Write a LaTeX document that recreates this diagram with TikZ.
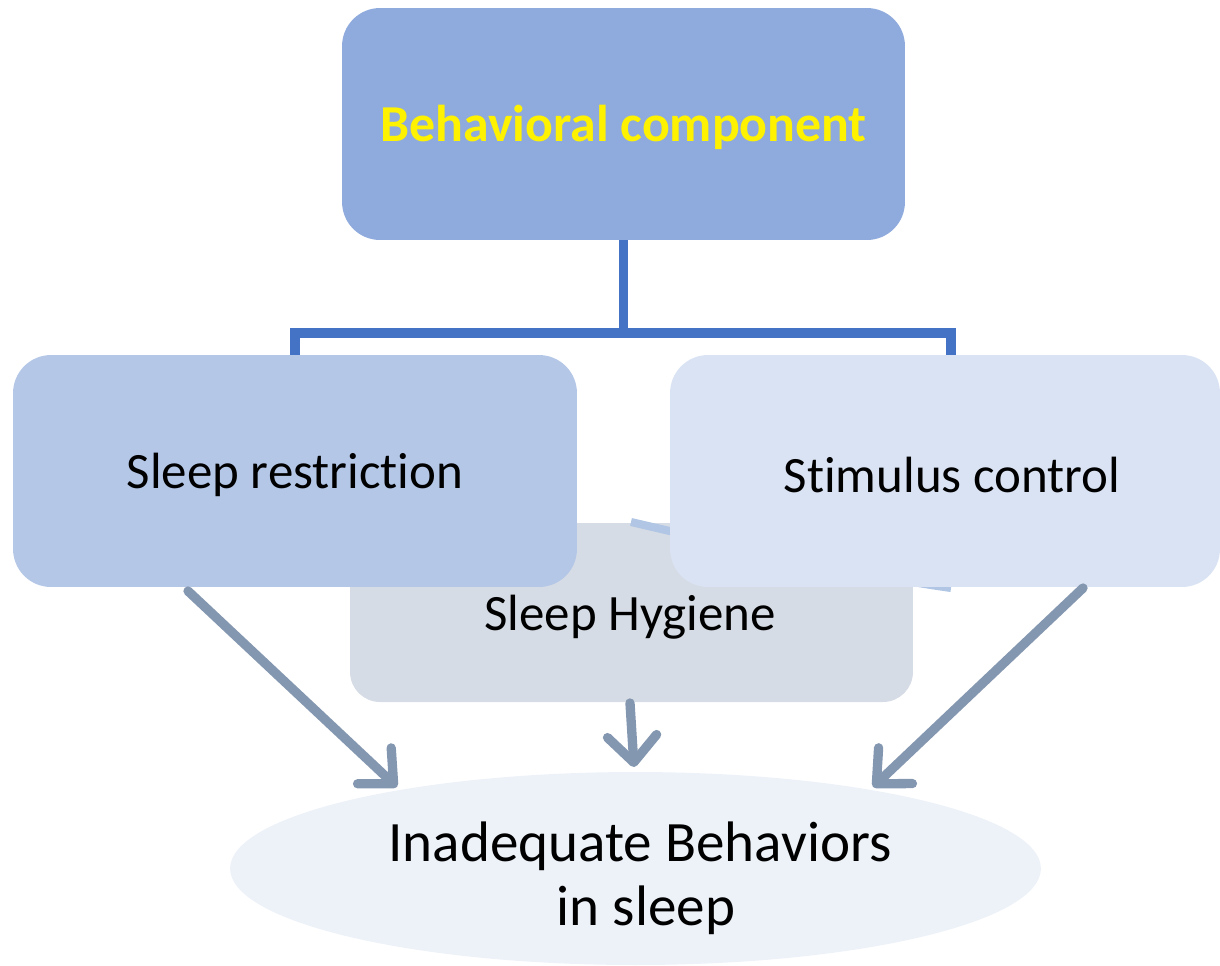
\documentclass[tikz,border=0pt]{standalone}
\usepackage{fontspec}
\setmainfont{Carlito}[Ligatures=NoCommon]
\usetikzlibrary{arrows.meta,shapes.geometric,calc}
\definecolor{topfill}{HTML}{8FAADC}
\definecolor{leftfill}{HTML}{B4C7E7}
\definecolor{rightfill}{HTML}{DAE3F3}
\definecolor{hygfill}{HTML}{D6DCE5}
\definecolor{ellfill}{HTML}{EDF2F9}
\definecolor{busblue}{HTML}{4472C4}
\definecolor{arrgray}{HTML}{8497B0}
\definecolor{faint}{HTML}{B0C6E4}
\tikzset{
  box/.style={rectangle, rounded corners=0.76cm, draw=none, align=center, inner sep=0pt},
  conn/.style={draw=busblue, line width=5.2pt},
  arr/.style={draw=arrgray, line width=5.3pt, line cap=round,
    -{Straight Barb[round, length=15pt, width=28pt]}},
  lbl/.style={font=\fontsize{29}{33}\selectfont},
  big/.style={font=\fontsize{32.5}{37.5}\selectfont}
}
\begin{document}
\begin{tikzpicture}[x=0.02cm, y=-0.02cm]
\useasboundingbox (0,0) rectangle (1220,965);

% top box
\node[box, fill=topfill, minimum width=11.26cm, minimum height=4.64cm] (top) at (623.5,124) {};
\node[font=\fontsize{29.5}{33}\selectfont\bfseries, text=yellow] (topl) at (623.5,127) {Behavioral component};

% bus line linking the top box to the two upper boxes
\coordinate (bus) at (0,333);
\coordinate (ldrop) at (295,355);
\coordinate (rdrop) at (951,355);
\draw[conn] (top.south) -- (top.south |- bus);
\draw[conn] (ldrop) |- (bus -| top.south) -| (rdrop);

% sleep hygiene box
\node[box, fill=hygfill, rounded corners=0.6cm, minimum width=11.26cm, minimum height=3.58cm] (sh) at (631.5,612.5) {};
\node[lbl] (shl) at (630,617) {Sleep Hygiene};

% faint link running behind the stimulus box
\coordinate (fa) at (631,522);
\coordinate (fb) at (951,588);
\draw[faint, line width=4.6pt] (fa) .. controls (760,552) and (860,575) .. (fb);

% upper boxes
\node[box, fill=leftfill, minimum width=11.28cm, minimum height=4.64cm] (sr) at (295,471) {};
\node[lbl] (srl) at (295,475) {Sleep restriction};
\node[box, fill=rightfill, minimum width=11.0cm, minimum height=4.64cm] (sc) at (945,471) {};
\node[lbl] (scl) at (952,475) {Stimulus control};

% outcome ellipse
\node[ellipse, fill=ellfill, minimum width=16.22cm, minimum height=3.86cm, inner sep=0pt] (ib) at (635.5,868.5) {};
\node[big] (ibl1) at (640,846) {Inadequate Behaviors};
\node[big] (ibl2) at (646,910) {in sleep};

% arrows into the ellipse
\coordinate (l0) at (188,591);
\coordinate (l1) at (397,787);
\coordinate (m0) at (630,703);
\coordinate (m1) at (634,767);
\coordinate (r0) at (1083,588);
\coordinate (r1) at (873,787);
\draw[arr] (l0) -- (l1);
\draw[arr] (m0) -- (m1);
\draw[arr] (r0) -- (r1);
\end{tikzpicture}
\end{document}
